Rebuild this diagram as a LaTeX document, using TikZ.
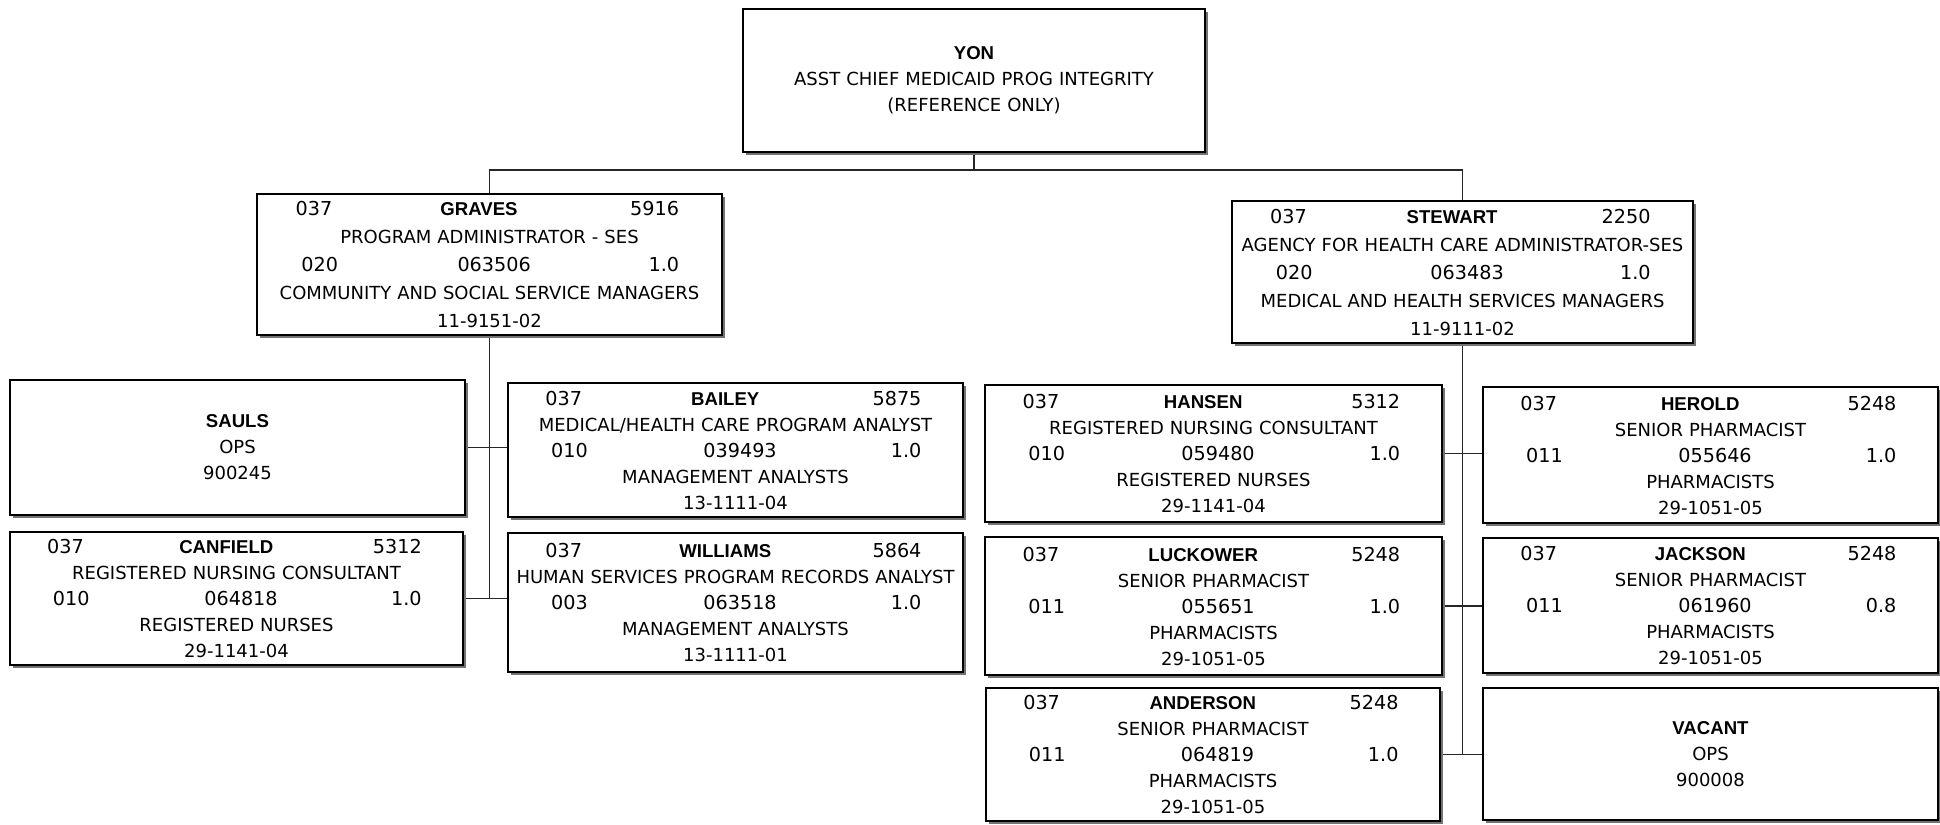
\documentclass[tikz,border=0pt]{standalone}
\usepackage{fontspec}
\setmainfont{DejaVu Sans}
\newfontfamily\namefont{Liberation Sans}
\usetikzlibrary{shadows,backgrounds}
\newcommand\nm[1]{{\namefont\bfseries\fontsize{9.3}{13}\selectfont #1}}
\newcommand\dg[1]{{\fontsize{9.6}{13}\selectfont #1}}
\newcommand\rowA[3]{\makebox[\hsize][l]{\makebox[0.245\hsize]{\dg{#1}}\makebox[0.465\hsize]{\nm{#2}}\makebox[0.29\hsize]{\dg{#3}}}}
\newcommand\rowC[3]{\makebox[\hsize][l]{\makebox[0.27\hsize]{\dg{#1}}\makebox[0.48\hsize]{\dg{#2}}\makebox[0.25\hsize]{\dg{#3}}}}
\newcommand\posn[9]{\rowA{#1}{#2}{#3}\\#4\\\rowC{#5}{#6}{#7}\\#8\\#9}
\tikzset{
  orgbox/.style={draw=black, line width=0.6pt, fill=white, inner sep=0pt, align=center,
    drop shadow={shadow xshift=1.4pt, shadow yshift=-1.4pt, fill=black!55, opacity=1},
    font=\fontsize{9}{13}\selectfont},
  bigbox/.style={orgbox, font=\fontsize{9}{14}\selectfont},
  boxsize/.style 2 args={minimum width=#1, text width=#1, minimum height=#2},
  conn/.style={draw=black!85, line width=0.8pt}
}
\begin{document}
\begin{tikzpicture}[x=0.5pt,y=-0.5pt]
\useasboundingbox (0,0) rectangle (1940,825);

\node[orgbox, boxsize={231pt}{71.5pt}] (yon) at (974,80.5)
  {\nm{YON}\\ASST CHIEF MEDICAID PROG INTEGRITY\\(REFERENCE ONLY)};

\node[bigbox, boxsize={232.5pt}{70.5pt}] (graves) at (489.5,264.5)
  {\posn{037}{GRAVES}{5916}{PROGRAM ADMINISTRATOR - SES}{020}{063506}{1.0}{COMMUNITY AND SOCIAL SERVICE MANAGERS}{11-9151-02}};
\node[bigbox, boxsize={230.5pt}{71pt}] (stewart) at (1462.5,272)
  {\posn{037}{STEWART}{2250}{AGENCY FOR HEALTH CARE ADMINISTRATOR-SES}{020}{063483}{1.0}{MEDICAL AND HEALTH SERVICES MANAGERS}{11-9111-02}};

\node[orgbox, boxsize={227.5pt}{67.5pt}] (sauls) at (237.5,447.5)
  {\nm{SAULS}\\OPS\\900245};
\node[orgbox, boxsize={226.5pt}{66.5pt}] (canfield) at (236.5,598.5)
  {\posn{037}{CANFIELD}{5312}{REGISTERED NURSING CONSULTANT}{010}{064818}{1.0}{REGISTERED NURSES}{29-1141-04}};
\node[orgbox, boxsize={227.5pt}{67pt}] (bailey) at (735.5,450)
  {\posn{037}{BAILEY}{5875}{MEDICAL/HEALTH CARE PROGRAM ANALYST}{010}{039493}{1.0}{MANAGEMENT ANALYSTS}{13-1111-04}};
\node[orgbox, boxsize={227.5pt}{69.5pt}] (williams) at (735.5,602.5)
  {\posn{037}{WILLIAMS}{5864}{HUMAN SERVICES PROGRAM RECORDS ANALYST}{003}{063518}{1.0}{MANAGEMENT ANALYSTS}{13-1111-01}};

\node[orgbox, boxsize={228.5pt}{68.5pt}] (hansen) at (1213.5,453.5)
  {\posn{037}{HANSEN}{5312}{REGISTERED NURSING CONSULTANT}{010}{059480}{1.0}{REGISTERED NURSES}{29-1141-04}};
\node[orgbox, boxsize={228.5pt}{69pt}] (luckower) at (1213.5,606)
  {\posn{037}{LUCKOWER}{5248}{SENIOR PHARMACIST}{011}{055651}{1.0}{PHARMACISTS}{29-1051-05}};
\node[orgbox, boxsize={227pt}{66.5pt}] (anderson) at (1213,754.5)
  {\posn{037}{ANDERSON}{5248}{SENIOR PHARMACIST}{011}{064819}{1.0}{PHARMACISTS}{29-1051-05}};
\node[orgbox, boxsize={227.5pt}{68pt}] (herold) at (1710.5,455)
  {\posn{037}{HEROLD}{5248}{SENIOR PHARMACIST}{011}{055646}{1.0}{PHARMACISTS}{29-1051-05}};
\node[orgbox, boxsize={227.5pt}{67.5pt}] (jackson) at (1710.5,605.5)
  {\posn{037}{JACKSON}{5248}{SENIOR PHARMACIST}{011}{061960}{0.8}{PHARMACISTS}{29-1051-05}};
\node[orgbox, boxsize={227.5pt}{66pt}] (vacant) at (1710.5,754)
  {\nm{VACANT}\\OPS\\900008};

\coordinate (bus) at (974,170);
\begin{scope}[on background layer]
\fill[white] (0,0) rectangle (1940,825);
\draw[conn] (yon.south) -- (bus);
\draw[conn] (graves.north) |- (bus) -| (stewart.north);
\draw[conn] (graves.south) -- (graves.south |- canfield.east);
\draw[conn] (sauls.east) -- (sauls.east -| bailey.west);
\draw[conn] (canfield.east) -- (canfield.east -| williams.west);
\draw[conn] (stewart.south) -- (stewart.south |- anderson.east);
\draw[conn] (hansen.east) -- (hansen.east -| herold.west);
\draw[conn] (luckower.east) -- (luckower.east -| jackson.west);
\draw[conn] (anderson.east) -- (anderson.east -| vacant.west);
\end{scope}
\end{tikzpicture}
\end{document}
